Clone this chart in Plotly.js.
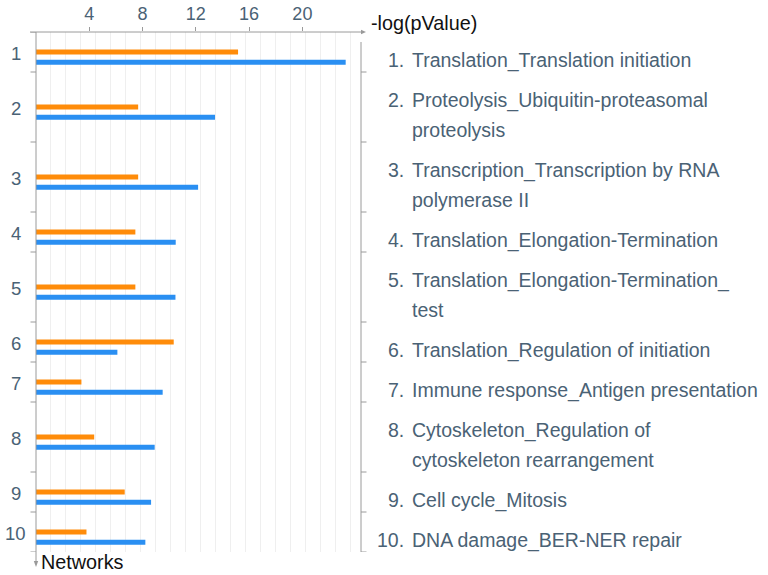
<!DOCTYPE html>
<html>
<head>
<meta charset="utf-8">
<script src="https://cdn.plot.ly/plotly-3.0.1.min.js"></script>
<style>html,body{margin:0;padding:0;background:#fff;}#chart{width:768px;height:575px;}</style>
</head>
<body>
<div id="chart"></div>
<script>
// ---- data ----
const networks = ['1','2','3','4','5','6','7','8','9','10'];
const pathways = [
  'Translation_Translation initiation',
  'Proteolysis_Ubiquitin-proteasomal<br>proteolysis',
  'Transcription_Transcription by RNA<br>polymerase II',
  'Translation_Elongation-Termination',
  'Translation_Elongation-Termination_<br>test',
  'Translation_Regulation of initiation',
  'Immune response_Antigen presentation',
  'Cytoskeleton_Regulation of<br>cytoskeleton rearrangement',
  'Cell cycle_Mitosis',
  'DNA damage_BER-NER repair'
];
const orangeVals = [15.17, 7.67, 7.67, 7.46, 7.46, 10.34, 3.41, 4.37, 6.66, 3.79];
const blueVals   = [23.25, 13.44, 12.17, 10.49, 10.47, 6.11, 9.51, 8.91, 8.64, 8.21];
const xTicks = [4, 8, 12, 16, 20];

// ---- layout helpers ----
const W = 768, H = 575;
const L = 35.5, R = 361, T = 32, B = 552;
const PW = R - L, PH = B - T;
const px2x = p => (p - L) / PW;
const px2y = p => (B - p) / PH;

const slate = '#4a6275';
const axisGray = '#9a9a9a';
const FONT = 'Liberation Sans, Arial, Helvetica, sans-serif';
const LABEL_SIZE = 19.5;

// row heights from number of label lines
const lines = pathways.map(p => p.split('<br>'));
const rowH = lines.map(l => 10 + 30 * l.length);
const bounds = [0];
rowH.forEach(h => bounds.push(bounds[bounds.length - 1] + h));
const centers = rowH.map((h, i) => bounds[i] + h / 2);
const total = bounds[bounds.length - 1];

const traces = [
  {type: 'bar', orientation: 'h', x: orangeVals, y: centers, width: 5, offset: -2.5,
   marker: {color: '#ff8c0a'}, hoverinfo: 'x', showlegend: false},
  {type: 'bar', orientation: 'h', x: blueVals, y: centers, width: 5, offset: 7.8,
   marker: {color: '#2a8ff2'}, hoverinfo: 'x', showlegend: false}
];

const annotations = [];
networks.forEach((n, i) => {
  annotations.push({xref: 'paper', yref: 'y', x: px2x(15), y: centers[i] + 1, text: n,
    showarrow: false, xanchor: 'center', yanchor: 'middle', font: {family: FONT, size: 18.5, color: slate}});
  const nl = lines[i].length;
  annotations.push({xref: 'paper', yref: 'y', x: px2x(406), y: centers[i] + 8 - (nl - 1) * 15, text: n + '.',
    showarrow: false, xanchor: 'right', yanchor: 'middle', font: {family: FONT, size: LABEL_SIZE, color: slate}});
  lines[i].forEach((t, j) => {
    annotations.push({xref: 'paper', yref: 'y', x: px2x(410), y: centers[i] + 8 + (j - (nl - 1) / 2) * 30, text: t,
      showarrow: false, xanchor: 'left', yanchor: 'middle', font: {family: FONT, size: LABEL_SIZE, color: slate}});
  });
});
annotations.push({xref: 'paper', yref: 'paper', x: px2x(369), y: px2y(23), text: '-log(pValue)',
  showarrow: false, xanchor: 'left', yanchor: 'middle', font: {family: FONT, size: 19.8, color: '#111'}});
annotations.push({xref: 'paper', yref: 'paper', x: px2x(39), y: px2y(562), text: 'Networks',
  showarrow: false, xanchor: 'left', yanchor: 'middle', font: {family: FONT, size: 19.8, color: '#111'}});

const shapes = [];
// top axis line with arrow
shapes.push({type: 'line', xref: 'paper', yref: 'paper', x0: px2x(29.5), x1: px2x(362), y0: 1, y1: 1,
  line: {color: axisGray, width: 1}});
shapes.push({type: 'path', xref: 'paper', yref: 'paper',
  path: `M ${px2x(361)} ${px2y(29.8)} L ${px2x(366)} ${px2y(32)} L ${px2x(361)} ${px2y(34.2)} Z`,
  fillcolor: axisGray, line: {width: 0}});
// left axis line with arrow
shapes.push({type: 'line', xref: 'paper', yref: 'paper', x0: 0, x1: 0, y0: 1, y1: px2y(562),
  line: {color: axisGray, width: 1}});
shapes.push({type: 'path', xref: 'paper', yref: 'paper',
  path: `M ${px2x(33.3)} ${px2y(561)} L ${px2x(35.5)} ${px2y(567)} L ${px2x(37.7)} ${px2y(561)} Z`,
  fillcolor: axisGray, line: {width: 0}});
// left ticks at row boundaries
bounds.forEach(b => shapes.push({type: 'line', xref: 'paper', yref: 'y', x0: px2x(30), x1: 0, y0: b, y1: b,
  line: {color: axisGray, width: 1}}));
// right bracket line and ticks
shapes.push({type: 'line', xref: 'paper', yref: 'y', x0: 1, x1: 1, y0: 10, y1: total,
  line: {color: axisGray, width: 1}});
bounds.slice(1).forEach(b => shapes.push({type: 'line', xref: 'paper', yref: 'y', x0: 1, x1: px2x(366.5), y0: b, y1: b,
  line: {color: axisGray, width: 1}}));

const layout = {
  width: W, height: H,
  margin: {l: L, r: W - R, t: T, b: H - B, pad: 0},
  paper_bgcolor: '#fff', plot_bgcolor: '#fff',
  barmode: 'overlay',
  font: {family: FONT, size: 17, color: slate},
  xaxis: {side: 'top', range: [0, 24.4], tickvals: xTicks, ticktext: xTicks.map(String),
    ticks: 'outside', ticklen: 4, tickcolor: axisGray, tickfont: {family: FONT, size: 18, color: slate},
    showline: false, showgrid: false, zeroline: false, automargin: false, fixedrange: true,
    minor: {tick0: 0, dtick: 1.125, showgrid: true, gridcolor: '#efefef', gridwidth: 1, ticks: ''}},
  yaxis: {range: [total, 0], showticklabels: false, showgrid: false, zeroline: false, showline: false,
    ticks: '', automargin: false, fixedrange: true},
  annotations: annotations,
  shapes: shapes,
  showlegend: false
};

Plotly.newPlot('chart', traces, layout, {displayModeBar: false, staticPlot: true});
</script>
</body>
</html>
